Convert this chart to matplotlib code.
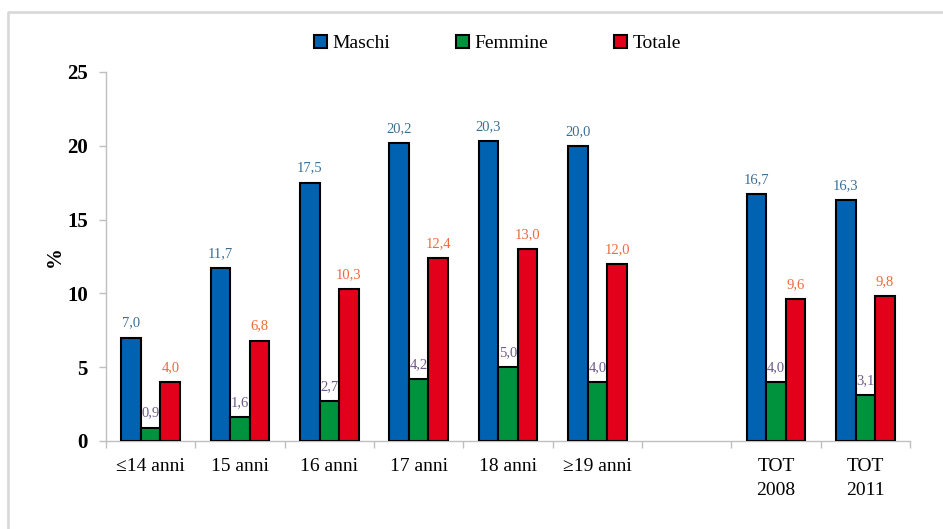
import numpy as np
import matplotlib
matplotlib.use("Agg")
import matplotlib.pyplot as plt
from matplotlib.lines import Line2D
from matplotlib.patches import Patch

categories = ["≤14 anni", "15 anni", "16 anni", "17 anni", "18 anni", "≥19 anni", "", "TOT\n2008", "TOT\n2011"]
maschi = [7.0, 11.7, 17.5, 20.2, 20.3, 20.0, np.nan, 16.7, 16.3]
femmine = [0.9, 1.6, 2.7, 4.2, 5.0, 4.0, np.nan, 4.0, 3.1]
totale = [4.0, 6.8, 10.3, 12.4, 13.0, 12.0, np.nan, 9.6, 9.8]
series_names = ["Maschi", "Femmine", "Totale"]

bar_colors = ["#0062B1", "#00933E", "#E2001A"]
label_colors = ["#3A6F95", "#6E5A8E", "#F0683C"]

plt.rcParams['font.family'] = ['Liberation Serif', 'DejaVu Serif']

fig = plt.figure(figsize=(9.43, 5.29), dpi=100)
ax = fig.add_axes([0.1124, 0.1664, 0.965 - 0.1124, 0.8639 - 0.1664])

x = np.arange(len(categories))
w = 0.22
offsets = [-w, 0.0, w]
for vals, off, col, lcol in zip([maschi, femmine, totale], offsets, bar_colors, label_colors):
    v = np.array(vals, dtype=float)
    mask = ~np.isnan(v)
    ax.bar(x[mask] + off, v[mask], width=w, color=col, edgecolor="black", linewidth=1.5, zorder=3)
    for xi, vi in zip(x[mask] + off, v[mask]):
        ax.annotate(f"{vi:.1f}".replace(".", ","), (xi, vi), xytext=(0, 10.5), textcoords="offset points",
                    ha="center", va="center", fontsize=10.5, color=lcol, zorder=4)

ax.set_xlim(-0.5, len(categories) - 0.5)
ax.set_ylim(0, 25)
ax.set_yticks([0, 5, 10, 15, 20, 25])
ax.set_xticks(x)
ax.set_xticklabels(categories, fontsize=14, linespacing=1.55)
ax.set_xticks(np.arange(-0.5, len(categories), 1.0), minor=True)
ax.tick_params(axis="x", which="major", length=0, pad=12)
ax.tick_params(axis="x", which="minor", length=5, color="#BFBFBF", width=1)
ax.tick_params(axis="y", length=5, color="#BFBFBF", width=1, pad=8, labelsize=15)
for lab in ax.get_yticklabels():
    lab.set_fontweight("bold")
ax.set_ylabel("%", fontsize=15, fontweight="bold", labelpad=2)

for s in ["top", "right"]:
    ax.spines[s].set_visible(False)
for s in ["left", "bottom"]:
    ax.spines[s].set_color("#BFBFBF")
    ax.spines[s].set_linewidth(1)

handles = [Patch(facecolor=c, edgecolor="black", linewidth=1.5) for c in bar_colors]
fig.legend(handles, series_names, loc="center", bbox_to_anchor=(0.5276, 0.918), ncol=3,
           frameon=False, fontsize=14, handlelength=0.67, handleheight=0.67, handletextpad=0.27,
           columnspacing=3.4, borderpad=0)

fig.add_artist(Line2D([0.0085, 0.0085, 1.0], [0.0, 0.977, 0.977], transform=fig.transFigure,
                      color="#D9D9D9", linewidth=2))

fig.savefig("out.png", dpi=100)
